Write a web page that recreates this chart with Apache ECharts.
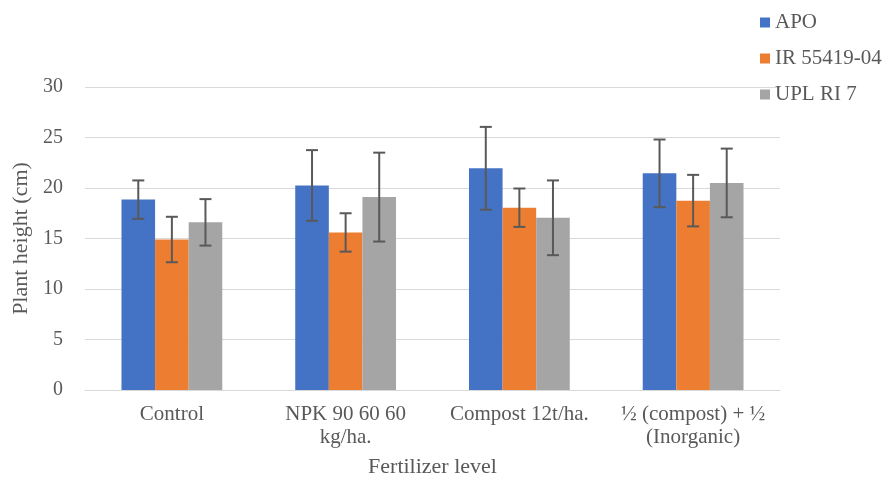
<!DOCTYPE html>
<html><head><meta charset="utf-8">
<script src="https://cdn.jsdelivr.net/npm/echarts@6/dist/echarts.min.js"></script>
<style>html,body{margin:0;padding:0;background:#fff}#c{width:888px;height:483px}</style>
</head><body><div id="c"></div>
<script>
const categories = ['Control', 'NPK 90 60 60\nkg/ha.', 'Compost 12t/ha.', '½ (compost) + ½\n(Inorganic)'];
const seriesNames = ['APO', 'IR 55419-04', 'UPL RI 7'];
const apo = [18.85, 20.25, 21.95, 21.45];
const ir = [14.9, 15.6, 18.05, 18.75];
const upl = [16.6, 19.1, 17.05, 20.5];
const apoErr = [1.9, 3.5, 4.1, 3.35];
const irErr = [2.25, 1.9, 1.9, 2.55];
const uplErr = [2.3, 4.4, 3.7, 3.4];
const yTicks = { min: 0, max: 30, interval: 5 };

const colors = ['#4472C4', '#ED7D31', '#A5A5A5'];
const values = [apo, ir, upl];
const errs = [apoErr, irErr, uplErr];
const catGap = 0.42;
const font = '"Liberation Serif", "Times New Roman", serif';
const txt = '#595959';

const series = [];
values.forEach((v, i) => {
  series.push({
    name: seriesNames[i], type: 'bar', data: v, barGap: '0%', barCategoryGap: (catGap * 100) + '%',
    itemStyle: { color: colors[i] }, z: 2
  });
});
values.forEach((v, i) => {
  series.push({
    type: 'custom', z: 5, silent: true,
    data: v.map((val, k) => [k, val + errs[i][k], val - errs[i][k]]),
    renderItem: function (params, api) {
      const k = api.value(0);
      const hi = api.coord([k, api.value(1)]);
      const lo = api.coord([k, api.value(2)]);
      const band = api.size([1, 0])[0];
      const bw = band * (1 - catGap) / 3;
      const x = hi[0] + (i - 1) * bw;
      const cap = 6;
      const st = { stroke: '#595959', lineWidth: 2 };
      return { type: 'group', children: [
        { type: 'line', shape: { x1: x, y1: hi[1], x2: x, y2: lo[1] }, style: st },
        { type: 'line', shape: { x1: x - cap, y1: hi[1], x2: x + cap, y2: hi[1] }, style: st },
        { type: 'line', shape: { x1: x - cap, y1: lo[1], x2: x + cap, y2: lo[1] }, style: st }
      ]};
    }
  });
});

const chart = echarts.init(document.getElementById('c'));
chart.setOption({
  animation: false,
  textStyle: { fontFamily: font },
  legend: {
    data: seriesNames, orient: 'vertical', left: 755, top: 7, itemGap: 15,
    icon: 'rect', itemWidth: 10, itemHeight: 10,
    textStyle: { fontFamily: font, fontSize: 21, color: txt }
  },
  grid: { left: 85, right: 108, top: 87, bottom: 90 },
  xAxis: {
    type: 'category', data: categories,
    name: 'Fertilizer level', nameLocation: 'middle', nameGap: 66,
    nameTextStyle: { fontFamily: font, fontSize: 22, color: txt },
    axisLine: { lineStyle: { color: '#d9d9d9', width: 1 } },
    axisTick: { show: false },
    axisLabel: { fontFamily: font, fontSize: 21, color: txt, margin: 13, lineHeight: 23, interval: 0 }
  },
  yAxis: {
    type: 'value', min: yTicks.min, max: yTicks.max, interval: yTicks.interval,
    name: 'Plant height (cm)', nameLocation: 'middle', nameGap: 48,
    nameTextStyle: { fontFamily: font, fontSize: 22, color: txt },
    axisLine: { show: false }, axisTick: { show: false },
    splitLine: { lineStyle: { color: '#d9d9d9', width: 1 } },
    axisLabel: { fontFamily: font, fontSize: 20, color: txt, margin: 22 }
  },
  series: series
});
</script></body></html>
